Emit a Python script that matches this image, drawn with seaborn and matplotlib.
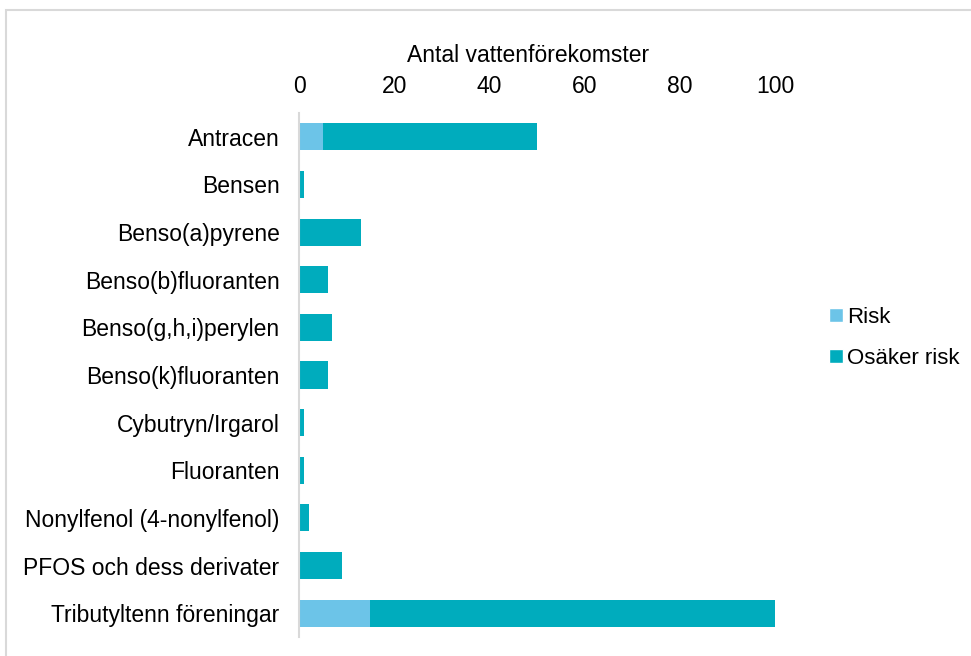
import matplotlib
matplotlib.use("Agg")
import matplotlib.pyplot as plt
import seaborn as sns
import pandas as pd
from matplotlib.patches import Patch, Rectangle

# data
amnen = ['Antracen', 'Bensen', 'Benso(a)pyrene', 'Benso(b)fluoranten',
         'Benso(g,h,i)perylen', 'Benso(k)fluoranten', 'Cybutryn/Irgarol',
         'Fluoranten', 'Nonylfenol (4-nonylfenol)', 'PFOS och dess derivater',
         'Tributyltenn föreningar']
risk = [5, 0, 0, 0, 0, 0, 0, 0, 0, 0, 15]
osaker_risk = [45, 1, 13, 6, 7, 6, 1, 1, 2, 9, 85]
xticks = [0, 20, 40, 60, 80, 100]

df = pd.DataFrame({'amne': amnen, 'risk': risk, 'osaker': osaker_risk})
df['total'] = df['risk'] + df['osaker']

col_risk = '#6CC4E8'
col_osaker = '#00ACBD'
fs = 16.5

sns.set_theme(style='white')
plt.rcParams['font.family'] = ['Liberation Sans', 'DejaVu Sans']
plt.rcParams['text.color'] = 'black'

fig = plt.figure(figsize=(9.71, 6.56), dpi=100)
ax = fig.add_axes([299 / 971, 1 - 637 / 656, 476 / 971, 524 / 656])

# stacked: draw the total first, then the risk part on top from zero
sns.barplot(data=df, x='total', y='amne', color=col_osaker, orient='h',
            width=0.57, saturation=1, linewidth=0, ax=ax)
sns.barplot(data=df, x='risk', y='amne', color=col_risk, orient='h',
            width=0.57, saturation=1, linewidth=0, ax=ax)

ax.set_xlim(0, 100)
ax.set_xticks(xticks)
ax.xaxis.tick_top()
ax.xaxis.set_label_position('top')
ax.set_xlabel('Antal vattenförekomster', fontsize=fs, color='black')
ax.xaxis.set_label_coords(0.481, 1.097)
ax.set_ylabel('')
ax.tick_params(axis='x', length=0, pad=11, labelsize=fs, colors='black')
ax.tick_params(axis='y', length=0, pad=14, labelsize=fs, colors='black')

for s in ['top', 'right', 'bottom']:
    ax.spines[s].set_visible(False)
ax.spines['left'].set_color('#D9D9D9')
ax.spines['left'].set_linewidth(1.5)

handles = [Patch(facecolor=col_risk, label='Risk'),
           Patch(facecolor=col_osaker, label='Osäker risk')]
fig.legend(handles=handles, loc='center left',
           bbox_to_anchor=(829 / 971, 1 - 338 / 656), frameon=False,
           fontsize=16, handlelength=0.62, handleheight=0.62,
           handletextpad=0.2, labelspacing=0.9, labelcolor='black',
           borderaxespad=0, borderpad=0)

# light frame around the chart area, running off the right and bottom edges
fig.patches.append(Rectangle((6 / 971, -0.1), 1.1, 1.1 - 10 / 656,
                             transform=fig.transFigure, fill=False,
                             edgecolor='#D9D9D9', linewidth=1.5))

fig.savefig('out.png', dpi=100)
